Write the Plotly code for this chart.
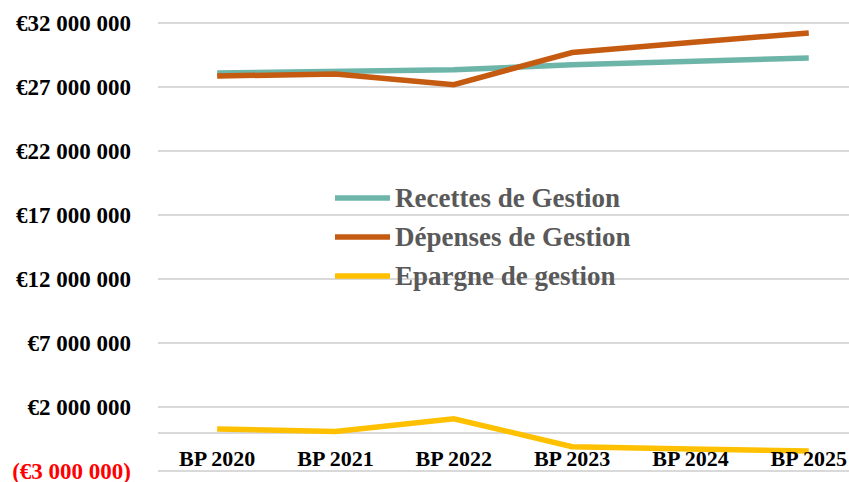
import plotly.graph_objects as go

categories = ["BP 2020", "BP 2021", "BP 2022", "BP 2023", "BP 2024", "BP 2025"]
recettes = [28090000, 28170000, 28350000, 28740000, 29000000, 29270000]
depenses = [27860000, 28020000, 27180000, 29700000, 30480000, 31220000]
epargne = [280000, 90000, 1080000, -1100000, -1280000, -1440000]

series_names = ["Recettes de Gestion", "Dépenses de Gestion", "Epargne de gestion"]
series_colors = ["#6DB5A8", "#C55A11", "#FFC000"]

tick_vals = [-3000000, 2000000, 7000000, 12000000, 17000000, 22000000, 27000000, 32000000]
tick_text = ['<span style="color:#FF0000">(€3 000 000)</span>', "€2 000 000", "€7 000 000",
             "€12 000 000", "€17 000 000", "€22 000 000", "€27 000 000", "€32 000 000"]

W, H = 849, 482
ML, MR, MT, MB = 158, 0, 21, 9
PW, PH = W - ML - MR, H - MT - MB

def px_x(p):
    return (p - ML) / PW

def px_y(p):
    return (H - MB - p) / PH

fig = go.Figure()
for name, vals, col in zip(series_names, [recettes, depenses, epargne], series_colors):
    fig.add_trace(go.Scatter(x=categories, y=vals, mode="lines", name=name,
                             line=dict(color=col, width=5.5), showlegend=False))

ymin, ymax = -3160000, 32160000
zero_pos = (0 - ymin) / (ymax - ymin)

fig.update_layout(
    width=W, height=H,
    margin=dict(l=ML, r=MR, t=MT, b=MB, autoexpand=False),
    paper_bgcolor="white", plot_bgcolor="white",
    xaxis=dict(type="category", range=[-0.5, 5.34], showgrid=False, zeroline=False,
               showline=False, anchor="free", position=zero_pos, automargin=False,
               ticks="", ticklabelstandoff=10, ticklabeloverflow="allow",
               tickfont=dict(family="Liberation Serif", size=22, color="#000000", weight="bold")),
    yaxis=dict(range=[ymin, ymax], tickvals=tick_vals, ticktext=tick_text,
               showgrid=True, gridcolor="#D9D9D9", gridwidth=1.5, automargin=False,
               zeroline=True, zerolinecolor="#D9D9D9", zerolinewidth=1.5,
               showline=False, ticks="", ticklabelstandoff=26, ticklabeloverflow="allow",
               tickfont=dict(family="Liberation Serif", size=23, color="#000000", weight="bold")),
)

legend_rows = [198, 237, 276]
for name, col, row in zip(series_names, series_colors, legend_rows):
    fig.add_shape(type="line", xref="paper", yref="paper",
                  x0=px_x(335), x1=px_x(390), y0=px_y(row), y1=px_y(row),
                  line=dict(color=col, width=5.5))
    fig.add_annotation(xref="paper", yref="paper", x=px_x(393), y=px_y(row),
                       xanchor="left", yanchor="middle", text=name, showarrow=False,
                       font=dict(family="Liberation Serif", size=27, color="#595959", weight="bold"))

fig.write_html("out.html", config={"displayModeBar": False},
               post_script="document.body.style.margin='0';document.body.style.overflow='hidden';")
